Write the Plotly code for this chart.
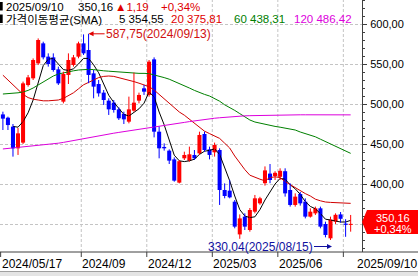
import plotly.graph_objects as go
import pandas as pd

# ---------------- data ----------------
dates = [d.strftime("%Y/%m/%d") for d in pd.date_range("2024-05-17", periods=69, freq="7D")] + ["2025/09/10"]

opens = [487, 482.9, 471.7, 444.6, 451.7, 523.7, 532.1, 550.8, 575.8, 559.2,
         558.3, 543.3, 502.9, 536.3, 548.8, 559.2, 575.8, 567.5, 538.3, 525,
         514.2, 504.2, 501.7, 493.3, 487.5, 477.9, 491.7, 504.2, 519.6, 511.3,
         555.8, 465.4, 446.3, 441.7, 430.8, 401.7, 432.1, 429.2, 436.3, 438.3,
         462.5, 443.3, 439.6, 442.5, 392.5, 391.7, 377.9, 337, 359.2, 342.5,
         365.4, 375.8, 401, 413, 410, 409, 416, 392.5, 373.8, 387.5,
         377.9, 359.2, 363.3, 369.6, 350, 332.1, 353, 362, 350.5, 348.9]
highs = [490.4, 484.2, 475, 470, 528, 536.3, 557, 582, 577.9, 563.3,
         563.3, 546.7, 540.4, 563.3, 561.3, 577.9, 587, 587.75, 542.5, 530,
         517.5, 507.1, 505, 495.8, 490.4, 509.2, 539.2, 514.2, 523.8, 555,
         558.3, 471.7, 450.8, 443.3, 433.3, 430, 440.4, 446.7, 442.5, 465.4,
         465.4, 446.7, 451.7, 444.6, 400.8, 405, 380, 362, 363.3, 370,
         386.3, 384, 422, 425, 416, 419.6, 419.6, 400.8, 388.3, 390,
         382, 369.6, 371.7, 371.7, 352.9, 359.2, 363.3, 365, 356, 361.3]
lows = [467.5, 467.5, 434.2, 436.3, 450, 521.7, 530, 548.7, 555.8, 546.7,
        540.4, 523.8, 500.8, 525, 546.7, 557.1, 561.3, 526, 507.1, 509.2,
        498.8, 486.3, 489.2, 480, 475, 475.8, 490.4, 500.8, 511.3, 509.2,
        458.3, 432.1, 441.7, 425, 402.9, 400.8, 430, 427.9, 430, 436.3,
        440.4, 430.8, 434.2, 373.8, 382.1, 382.1, 344.6, 331.5, 342.5, 340.4,
        363.3, 374, 398, 401, 405, 405, 384.2, 371.7, 371.7, 373,
        357, 358, 361.3, 344.6, 333.3, 330.04, 350, 351.7, 334, 340.4]
closes = [481.7, 473.7, 444.6, 463.3, 525.8, 533.3, 555, 580, 558.3, 550,
          542.5, 525.8, 537.5, 555, 558.3, 575.8, 563.3, 536.3, 521.7, 513.3,
          505, 493.3, 492.5, 482.1, 480.8, 493.3, 501.7, 511.3, 515.4, 552.9,
          465.4, 444.6, 444.6, 429.2, 404.2, 428.5, 436.3, 437.1, 432.1, 461.3,
          442.5, 436.3, 448.8, 392.5, 385, 383.3, 346.7, 357, 346.7, 367.5,
          382.1, 382.1, 417, 405, 414, 416.5, 388.3, 373.8, 384.2, 375.8,
          359.2, 365.4, 369.6, 346.7, 336.3, 355.5, 361.5, 356.5, 348.97, 350.16]

sma5 = [None, None, 472, 471, 478, 489, 505, 528, 548, 556,
        557, 550, 543, 542, 544, 550, 557, 557, 549, 539,
        525, 511, 502, 494, 487, 485, 490, 494, 501, 515,
        509, 490, 474, 456, 436, 429, 428, 429, 431, 437,
        441, 442, 444, 437, 421, 404, 385, 368, 360, 358,
        359, 368, 380, 390, 400, 407, 406, 399, 394, 387,
        378, 372, 369, 363, 356, 355, 354, 352.5, 352.5, 354.55]
sma20 = [536, 530, 523, 517, 512, 508, 506, 505, 504, 504,
         504.5, 505, 507, 510, 514, 519, 524, 527, 530, 533,
         534.5, 535, 534.5, 533, 531.5, 530, 528, 526, 524, 521.7,
         517.5, 512, 507, 502, 496, 490, 486, 481, 475, 470,
         466, 463, 460, 457, 451, 445, 435, 426, 418, 411,
         408, 406, 404, 408, 409, 408, 403, 399, 396, 392,
         388, 385, 381, 379, 377.5, 377, 376.5, 376, 375.8, 375.81]
sma60 = [512.5, 512.7, 513, 514, 515, 517, 520, 524, 528, 532,
         535, 537.5, 539, 540.4, 541.5, 542.5, 543, 543.3, 543, 542,
         541.5, 541, 540.5, 540, 539.2, 538.8, 538.5, 538.3, 538.3, 538,
         536.3, 535, 533, 531, 528.5, 526, 523, 520, 517, 514,
         512, 510, 507, 503.5, 499, 496, 492, 488, 484, 480,
         477.5, 476, 475, 473, 472, 471, 470, 469, 467.5, 465,
         463, 461, 459, 456, 453, 450.5, 447.5, 444.5, 441.5, 438.31]
sma120 = [443.8, 444.4, 445, 445.6, 446.2, 446.8, 447.5, 448.2, 448.9, 449.6,
          450.3, 451, 452, 453.2, 454.5, 455.8, 457, 458.3, 459.5, 460.5,
          461.5, 462.5, 463.5, 464.5, 465.4, 466.3, 467.2, 468, 469, 470,
          471, 472, 473, 474, 475, 476, 477, 478, 479, 480,
          480.8, 481.5, 482.2, 482.8, 483.4, 484, 484.5, 485, 485.2, 485.4,
          485.6, 485.8, 486, 486.2, 486.3, 486.4, 486.4, 486.5, 486.5, 486.5,
          486.5, 486.5, 486.5, 486.5, 486.5, 486.4, 486.4, 486.4, 486.4, 486.42]

ma_periods = [5, 20, 60, 120]
ma_series = [sma5, sma20, sma60, sma120]
ma_colors = ["#000000", "#d00000", "#008000", "#dd00dd"]

month_ticks = ["2024/09", "2024/12", "2025/03", "2025/06", "2025/09"]
month_texts = ["2024/09", "2024/12", "2025/03", "2025/06", ""]
y_ticks = [350, 400, 450, 500, 550, 600]

# ---------------- layout geometry ----------------
W, H = 418, 276
ML, MR, MT, MB = 0, 56, 0, 24
PW, PH = W - ML - MR, H - MT - MB
XR = [-0.575, 71.25]
YR = [315, 630]
FONT = "Liberation Sans, Noto Sans CJK KR, sans-serif"
UP, DOWN = "#ff0000", "#0000ff"
AXC = "#404040"
GRIDC = "#c4c4c4"


def xp(px):
    return (px - ML) / PW


def yp(py):
    return 1 - (py - MT) / PH


def fmt(v):
    return f"{v:,.2f}".replace(",", " ").replace(".", ",").replace(" ", ".")


fig = go.Figure()

# moving averages
for per, ser, col in zip(ma_periods, ma_series, ma_colors):
    fig.add_trace(go.Scatter(x=dates, y=ser, mode="lines",
                             line=dict(color=col, width=1), hoverinfo="skip"))

# candles
up = [c >= o for o, c in zip(opens, closes)]
cols = [UP if u else DOWN for u in up]
for flag, col in ((True, UP), (False, DOWN)):
    wx, wy = [], []
    for d, h, l, u in zip(dates, highs, lows, up):
        if u == flag:
            wx += [d, d, None]
            wy += [l, h, None]
    fig.add_trace(go.Scatter(x=wx, y=wy, mode="lines",
                             line=dict(color=col, width=1), hoverinfo="skip"))

fig.add_trace(go.Bar(x=dates, y=[abs(c - o) for o, c in zip(opens, closes)],
                     base=[min(o, c) for o, c in zip(opens, closes)],
                     width=0.8, marker=dict(color=cols, line=dict(width=0)),
                     hoverinfo="skip"))

shapes = []
annotations = []

# month grid lines / ticks / labels
for m, t in zip(month_ticks, month_texts):
    idx = next(i for i, d in enumerate(dates) if d.startswith(m))
    pos = idx - 0.45
    shapes.append(dict(type="line", xref="x", yref="paper", x0=pos, x1=pos, y0=0, y1=1,
                       line=dict(color=GRIDC, width=1, dash="3px,2px"), layer="below"))
    shapes.append(dict(type="line", xref="x", yref="paper", x0=pos, x1=pos,
                       y0=yp(PH), y1=yp(PH + 5), line=dict(color=AXC, width=1)))
    if t:
        annotations.append(dict(text=t, xref="x", yref="paper", x=pos, y=yp(263.5),
                                xanchor="left", yanchor="middle", xshift=0, showarrow=False,
                                borderpad=0,
                                font=dict(family=FONT, size=12, color="#000000")))
# first tick
shapes.append(dict(type="line", xref="x", yref="paper", x0=-0.45, x1=-0.45,
                   y0=yp(PH), y1=yp(PH + 5), line=dict(color=AXC, width=1)))
annotations.append(dict(text=dates[0], xref="paper", yref="paper", x=xp(0.5), y=yp(263.5),
                        xanchor="left", yanchor="middle", showarrow=False, borderpad=0,
                        font=dict(family=FONT, size=12, color="#000000")))
annotations.append(dict(text=dates[-1], xref="paper", yref="paper", x=xp(W), y=yp(263.5),
                        xanchor="right", yanchor="middle", showarrow=False, borderpad=0,
                        font=dict(family=FONT, size=12, color="#000000")))

# bottom axis line across whole width
shapes.append(dict(type="line", xref="paper", yref="paper", x0=xp(0), x1=xp(W),
                   y0=0, y1=0, line=dict(color=AXC, width=1)))
# bottom scroll strip
shapes.append(dict(type="rect", xref="paper", yref="paper", x0=xp(0), x1=xp(W),
                   y0=yp(271.5), y1=yp(H), fillcolor="#e4e4e4", line=dict(width=0)))
shapes.append(dict(type="line", xref="paper", yref="paper", x0=xp(0), x1=xp(W),
                   y0=yp(271.5), y1=yp(271.5), line=dict(color="#a0a0a0", width=1)))

# header
last, prev = closes[-1], closes[-2]
chg = last - prev
pct = chg / prev * 100
bars_y = [(2, 10.5), (14.5, 23)]
for y0, y1 in bars_y:
    shapes.append(dict(type="rect", xref="paper", yref="paper", x0=xp(0), x1=xp(2.7),
                       y0=yp(y1), y1=yp(y0), fillcolor="#000000", line=dict(width=0)))

HS = 11.5


def hdr(text, px, py, color, size=HS):
    annotations.append(dict(text=text, xref="paper", yref="paper", x=xp(px), y=yp(py),
                            xanchor="left", yanchor="middle", showarrow=False, borderpad=0,
                            font=dict(family=FONT, size=size, color=color)))


L1, L2 = 6.5, 19.3
hdr(dates[-1], 5, L1, "#000000")
hdr(fmt(last), 77, L1, "#000000")
hdr("▲" + fmt(chg), 114, L1, "#e00000")
hdr(f"+{fmt(pct)}%", 160, L1, "#e00000")
hdr("가격이동평균(SMA)", 5, L2, "#000000")
hdr(f"{ma_periods[0]} {fmt(sma5[-1])}", 118, L2, "#000000")
hdr(f"{ma_periods[1]} {fmt(sma20[-1])}", 170, L2, "#e00000")
hdr(f"{ma_periods[2]} {fmt(sma60[-1])}", 233, L2, "#008000")
hdr(f"{ma_periods[3]} {fmt(sma120[-1])}", 293, L2, "#dd00dd")

# high / low markers
ih = max(range(len(highs)), key=lambda i: highs[i])
il = min(range(len(lows)), key=lambda i: lows[i])
annotations.append(dict(text=f"{fmt(highs[ih])}({dates[ih]})", x=ih, y=highs[ih],
                        xref="x", yref="y", ax=16, ay=0, xanchor="left", yanchor="middle",
                        showarrow=True, arrowhead=2, arrowsize=1, arrowwidth=1,
                        arrowcolor="#e00000", standoff=0, borderpad=0,
                        font=dict(family=FONT, size=12, color="#d01010")))
annotations.append(dict(text=f"{fmt(lows[il])}({dates[il]})", x=il + 0.3, y=yp(246.5),
                        xref="x", yref="paper", ax=-18, ay=0, xanchor="right", yanchor="middle",
                        showarrow=True, arrowhead=2, arrowsize=1, arrowwidth=1,
                        arrowcolor="#1010a0", standoff=0, borderpad=0,
                        font=dict(family=FONT, size=12, color="#1010a0")))

# current price box on the right axis
ytip, ytop, ybot = 222, 210, 234
shapes.append(dict(type="path", xref="paper", yref="paper",
                   path=f"M {xp(362)},{yp(ytip)} L {xp(367)},{yp(ytop)} L {xp(W)},{yp(ytop)} "
                        f"L {xp(W)},{yp(ybot)} L {xp(367)},{yp(ybot)} Z",
                   fillcolor="#ff0000", line=dict(width=0), layer="above"))
annotations.append(dict(text=fmt(last), xref="paper", yref="paper", x=xp(393), y=yp(218.3),
                        xanchor="center", yanchor="middle", showarrow=False, borderpad=0,
                        font=dict(family=FONT, size=11, color="#ffffff")))
annotations.append(dict(text=f"+{fmt(pct)}%", xref="paper", yref="paper", x=xp(393.5), y=yp(229.3),
                        xanchor="center", yanchor="middle", showarrow=False, borderpad=0,
                        font=dict(family=FONT, size=11, color="#ffffff")))

fig.update_layout(
    width=W, height=H,
    margin=dict(l=ML, r=MR, t=MT, b=MB, pad=0),
    paper_bgcolor="#ffffff", plot_bgcolor="#ffffff",
    showlegend=False, hovermode=False,
    shapes=shapes, annotations=annotations,
    xaxis=dict(type="category", range=XR, showgrid=False, showticklabels=False,
               ticks="", showline=False, zeroline=False, fixedrange=True),
    yaxis=dict(side="right", range=YR, tickvals=y_ticks,
               ticktext=["" if v == 350 else fmt(v) for v in y_ticks],
               ticks="outside", ticklen=4, tickcolor=AXC, tickwidth=1,
               showline=True, linecolor=AXC, linewidth=1,
               showgrid=True, gridcolor=GRIDC, griddash="3px,2px", gridwidth=1,
               zeroline=False, ticklabelstandoff=1,
               tickfont=dict(family=FONT, size=11, color="#000000"),
               minor=dict(dtick=10, tick0=0, ticks="outside", ticklen=2,
                          tickcolor=AXC, showgrid=False),
               fixedrange=True),
)

fig.write_html("out.html", config={"displayModeBar": False, "staticPlot": True})
